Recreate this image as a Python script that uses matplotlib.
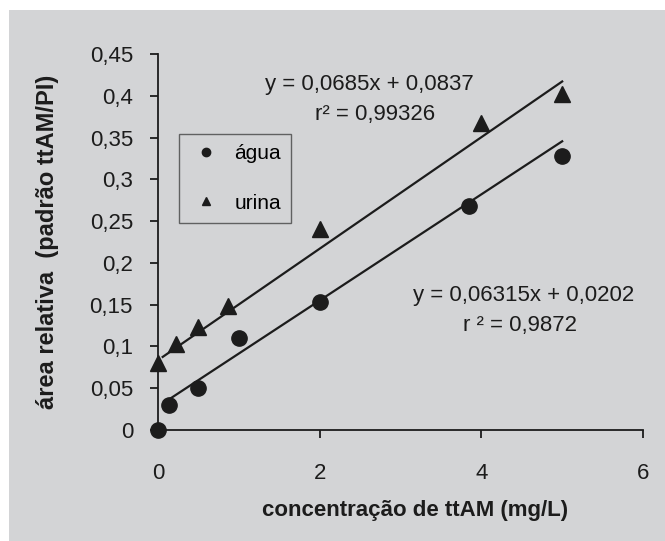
import numpy as np
import matplotlib
matplotlib.use('Agg')
import matplotlib.pyplot as plt
from matplotlib.patches import Rectangle
from matplotlib.lines import Line2D

plt.rcParams['font.family'] = ['Liberation Sans', 'DejaVu Sans']

# agua (circles)
agua_x = [0, 0.136, 0.5, 1.0, 2.0, 3.85, 5.0]
agua_y = [0, 0.030, 0.050, 0.110, 0.153, 0.268, 0.328]
# urina (triangles)
urina_x = [0, 0.218, 0.5, 0.87, 2.0, 4.0, 5.0]
urina_y = [0.080, 0.103, 0.123, 0.148, 0.240, 0.367, 0.402]

# trend lines as drawn: slope, intercept, start x, end x
agua_fit = [0.0635, 0.028, 0.148, 5.0]
urina_fit = [0.0667, 0.0836, 0.058, 5.0]

eq_agua = ['y = 0,06315x + 0,0202', 'r ² = 0,9872']
eq_urina = ['y = 0,0685x + 0,0837', 'r² = 0,99326']

y_ticks = [0, 0.05, 0.1, 0.15, 0.2, 0.25, 0.3, 0.35, 0.4, 0.45]
y_ticklabels = ['0', '0,05', '0,1', '0,15', '0,2', '0,25', '0,3', '0,35', '0,4', '0,45']
x_ticks = [0, 2, 4, 6]

bg = '#d3d4d6'
ink = '#1c1c1c'

fig = plt.figure(figsize=(6.65, 5.41), dpi=100, facecolor='white')
fig.patches.append(Rectangle((9 / 665, 0), 1, 1 - 10 / 541, transform=fig.transFigure,
                             facecolor=bg, edgecolor='none', zorder=-10))

ax = fig.add_axes([158 / 665, 1 - 430 / 541, 485 / 665, 376 / 541])
ax.set_facecolor('none')
ax.set_xlim(0, 6)
ax.set_ylim(0, 0.45)

for fit in [agua_fit, urina_fit]:
    xs = np.array([fit[2], fit[3]])
    ax.plot(xs, fit[0] * xs + fit[1], color=ink, lw=1.6, zorder=2)

ax.plot(agua_x, agua_y, 'o', color=ink, ms=11, clip_on=False, zorder=3)
ax.plot(urina_x, urina_y, '^', color=ink, ms=11, clip_on=False, zorder=3)

ax.text(2.62, 0.414, eq_urina[0], ha='center', va='center', fontsize=16, color=ink)
ax.text(2.68, 0.377, eq_urina[1], ha='center', va='center', fontsize=16, color=ink)
ax.text(4.52, 0.161, eq_agua[0], ha='center', va='center', fontsize=16, color=ink)
ax.text(4.48, 0.125, eq_agua[1], ha='center', va='center', fontsize=16, color=ink)

for s in ['top', 'right']:
    ax.spines[s].set_visible(False)
for s in ['left', 'bottom']:
    ax.spines[s].set_linewidth(1.3)
    ax.spines[s].set_color(ink)

ax.set_yticks(y_ticks)
ax.set_yticklabels(y_ticklabels)
ax.set_xticks(x_ticks)
ax.tick_params(axis='y', direction='out', length=6, width=1.3, pad=12, labelsize=16, colors=ink)
ax.tick_params(axis='x', direction='out', length=6, width=1.3, pad=18, labelsize=16, colors=ink)

ax.set_xlabel('concentração de ttAM (mg/L)', fontsize=16, fontweight='bold', color=ink)
ax.xaxis.set_label_coords((415 - 158) / 485, -(500 - 430) / 376)
ax.set_ylabel('área relativa  (padrão ttAM/PI)', fontsize=17, fontweight='bold', color=ink)
ax.yaxis.set_label_coords(-(158 - 59) / 485, 0.5)

handles = [Line2D([], [], marker='o', ls='none', color=ink, ms=6),
           Line2D([], [], marker='^', ls='none', color=ink, ms=6)]
leg = ax.legend(handles, ['água', 'urina'], loc='upper left',
                bbox_to_anchor=(179 / 665, 1 - 134 / 541), bbox_transform=fig.transFigure,
                fontsize=15, frameon=True, fancybox=False, handlelength=1.6,
                handletextpad=0.55, labelspacing=1.45, borderpad=0.5, borderaxespad=0)
leg.get_frame().set_facecolor('none')
leg.get_frame().set_edgecolor('#444444')
leg.get_frame().set_linewidth(1.0)

plt.savefig('out.png', dpi=100, facecolor=fig.get_facecolor())
